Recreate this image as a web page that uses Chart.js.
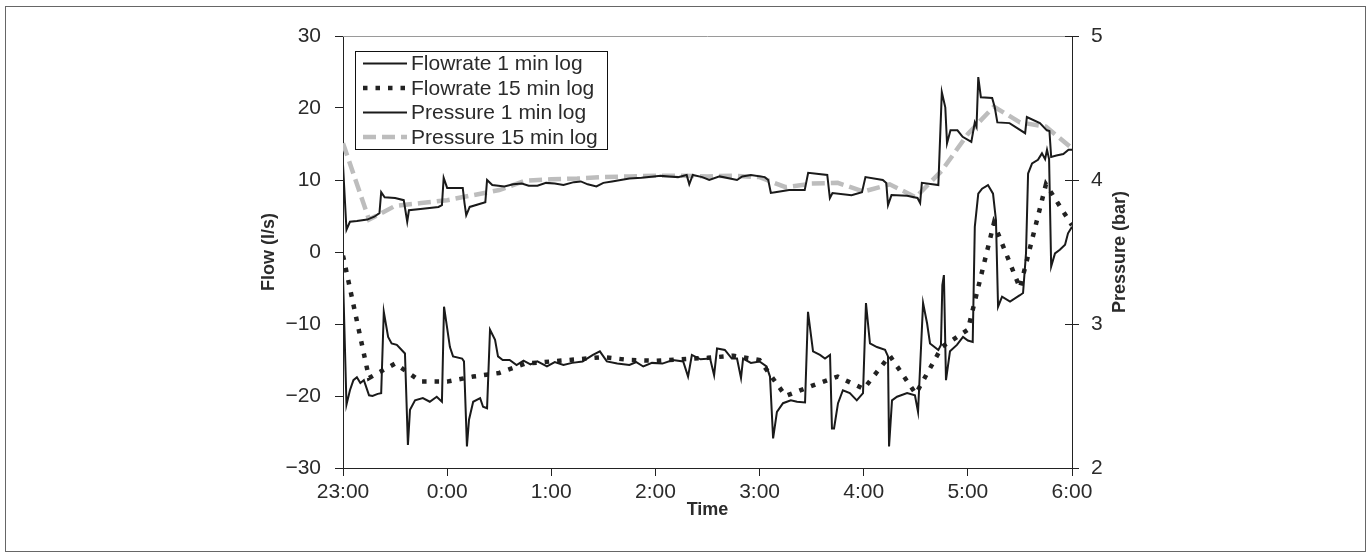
<!DOCTYPE html>
<html>
<head>
<meta charset="utf-8">
<title>Flow and pressure</title>
<script src="https://cdn.jsdelivr.net/npm/chart.js@4.4.1/dist/chart.umd.min.js"></script>
<style>
	html, body { margin: 0; padding: 0; background: #fff; }
	#wrap { position: relative; width: 1372px; height: 560px; }
</style>
</head>
<body>
<div id="wrap"><canvas id="mycanvas" width="1372" height="560"></canvas></div>
<script>
// minutes after 23:00
var timeTicks = ['23:00', '0:00', '1:00', '2:00', '3:00', '4:00', '5:00', '6:00'];

var flowMinTimes = [0, 2, 4, 6, 8, 10, 12, 13, 15, 17, 20, 22, 23.5, 26, 28, 31, 33, 35.7, 37.4, 38.6, 41.5, 46, 50, 54, 57, 58.2,
	61.6, 63.4, 68.6, 69.7, 71.4, 72.6, 75, 79, 80.7, 83, 84.7, 87.6, 89.3, 92, 96, 100, 104, 108, 112, 117.5, 122, 127, 132, 138, 144, 148, 152,
	158, 165, 169, 173, 178, 184, 190, 196, 198.8, 201, 206, 211.5, 213.8, 215.5, 220, 224, 227, 229.3, 230.5, 235, 240, 244, 246, 247.8, 250, 253.5,
	258, 261.6, 266.2, 267.9, 270.8, 274.8, 277.7, 280.6, 281.7, 282.9, 285.2, 288, 292, 296, 299.6, 301.3, 303.6, 307.6, 312.3,
	314, 314.6, 316.3, 319.2, 325, 329.5, 331.3, 334.2, 336.5, 338.2, 343, 344.5, 345.3, 346.2, 347.4, 349.7, 353.7, 357.2,
	360, 362.8, 364, 366, 368.2, 371.6, 374.5, 376.2, 377.4, 379.7, 384.3, 390, 391.8, 393.5, 394.7, 397, 400.4, 402.7,
	404.5, 405.6, 406.8, 408, 410.2, 413, 416, 417.7, 420];
var flowMinValues = [-3.4, -21.2, -19.2, -17.8, -17.4, -18.2, -17.8, -18.5, -19.9, -20, -19.7, -19.6, -8.3, -11.8, -12.7, -12.9, -13.4, -14.1, -26.8, -21.9, -20.6, -20.3, -20.8, -20.1, -20.8, -7.6,
	-13.2, -14.5, -14.8, -15.2, -27, -23.3, -20.8, -20.3, -21.5, -21.7, -10.8, -12.2, -14.5, -15, -15, -15.7, -15.1, -15.6, -15.2, -15.9, -15.3, -15.7, -15.4, -15.2, -14.3, -13.8, -15.2,
	-15.5, -15.7, -15.3, -15.9, -15.4, -15.5, -15.0, -15.2, -17.3, -14.3, -14.9, -14.8, -17.1, -13.4, -13.6, -14.8, -14.8, -17.5, -14.8, -15.4, -15.2, -15.9, -17.3, -25.9, -22.2, -21,
	-20.6, -20.8, -20.9, -8.3, -13.8, -14.3, -14.8, -14.3, -24.5, -24.5, -21, -19.2, -19.6, -20.6, -19.6, -7.1, -12.7, -13.2, -13.6,
	-14.5, -27, -20.6, -20.1, -19.6, -19.9, -22.2, -7.1, -9.9, -12.7, -13.6, -12.9, -4.6, -3.2, -17.8, -13.8, -12.9, -11.8,
	-12.3, -12.5, 3.5, 8.1, 8.8, 9.3, 8.1, 4.4, -7.6, -6.2, -6.9, -6, -5.7, -0.2, 10.9, 12.3, 12.8, 13.7,
	12.9, 14.2, 12.9, -2, -0.2, 0.3, 1, 2.6, 3.5];

var presMinTimes = [0, 2, 4, 8, 14, 18, 21, 22, 24, 30, 35, 37, 38, 46, 55, 57, 58, 60, 69, 70, 71, 73, 82, 83, 86, 93, 98, 103, 107, 112,
	117, 122, 127, 133, 137, 141, 146, 150, 155, 160, 165, 172, 179, 183, 188, 193, 198, 199.5, 201.5, 207, 211, 217, 227, 230, 235, 243, 245, 246.5, 249, 257, 266, 268,
	279, 280.5, 282, 293, 299, 301, 311, 313, 314, 316, 325, 331, 332.5, 333.5, 343, 345, 347, 348, 350, 354, 357, 362, 364,
	365, 366, 367.5, 374, 375.5, 377, 384, 393, 394, 401.5, 405.5, 407, 408, 411, 415, 418, 420];
var presMinValues = [4.105, 3.655, 3.71, 3.715, 3.725, 3.745, 3.77, 3.915, 3.88, 3.875, 3.86, 3.71, 3.79, 3.8, 3.813, 3.825, 4.015, 3.945, 3.945, 3.84, 3.755, 3.813, 3.845, 4.0, 3.965, 3.955, 3.97, 3.975, 3.96, 3.96,
	3.98, 3.975, 3.965, 3.985, 3.99, 3.97, 3.955, 3.98, 3.99, 4.0, 4.01, 4.015, 4.025, 4.03, 4.025, 4.02, 4.035, 3.97, 4.035, 4.02, 4.0, 4.025, 4.0, 4.025, 4.035, 4.02, 4.0, 3.91, 3.915, 3.93, 3.93, 4.05,
	4.035, 3.875, 3.91, 3.895, 3.915, 4.02, 4.0, 3.98, 3.825, 3.895, 3.89, 3.875, 3.84, 3.98, 3.965, 4.61, 4.505, 4.255, 4.345, 4.345, 4.3, 4.265, 4.4,
	4.37, 4.715, 4.575, 4.57, 4.505, 4.4, 4.395, 4.325, 4.4375, 4.395, 4.345, 4.34, 4.16, 4.17, 4.18, 4.21, 4.21];

var quarterTimes = [0, 15, 30, 45, 60, 75, 90, 105, 120, 135, 150, 165, 180, 195, 210, 225, 240, 255, 270, 285, 300, 315, 330, 345, 360, 375, 390, 405, 420];
var flow15Values = [-0.5, -17.5, -15.5, -18, -18, -17.3, -16.8, -15.5, -15.2, -14.9, -14.6, -15, -15.1, -14.9, -14.7, -14.4, -15, -20, -18.6, -17.3, -19, -14.4, -19.7, -13.2, -10.8, 4, -5, 9.4, 3.7];
var pres15Values = [4.255, 3.725, 3.82, 3.84, 3.86, 3.895, 3.93, 3.995, 4.005, 4.01, 4.02, 4.025, 4.03, 4.03, 4.025, 4.03, 4.02, 3.95, 3.975, 3.98, 3.92, 3.97, 3.88, 4.065, 4.32, 4.51, 4.4, 4.37, 4.22];

function pairs(xs, ys) {
	var out = [];
	for (var i in xs) {
		out.push({x: xs[i], y: ys[i]});
	}
	return out;
}

var FONT = "'Liberation Sans', Arial, Helvetica, sans-serif";
var TEXT = '#2b2b2b';
var AXIS = '#222';

var chartdata = {
	datasets: [
		{
			label: 'Flowrate 1 min log',
			data: pairs(flowMinTimes, flowMinValues),
			borderColor: '#1a1a1a',
			borderWidth: 2,
			yAxisID: 'y'
		},
		{
			label: 'Flowrate 15 min log',
			data: pairs(quarterTimes, flow15Values),
			borderColor: '#222',
			borderWidth: 4.5,
			borderDash: [4.5, 8],
			yAxisID: 'y'
		},
		{
			label: 'Pressure 1 min log',
			data: pairs(presMinTimes, presMinValues),
			borderColor: '#1a1a1a',
			borderWidth: 2,
			yAxisID: 'y1'
		},
		{
			label: 'Pressure 15 min log',
			data: pairs(quarterTimes, pres15Values),
			borderColor: '#bdbdbd',
			borderWidth: 4.5,
			borderDash: [13, 6],
			yAxisID: 'y1'
		}
	]
};

// frame, top border, right axis inner ticks + title, boxed legend
var extras = {
	id: 'extras',
	beforeDraw: function(chart) {
		var c = chart.ctx;
		c.save();
		c.fillStyle = '#fff';
		c.fillRect(0, 0, chart.width, chart.height);
		c.strokeStyle = '#666';
		c.lineWidth = 1;
		c.strokeRect(5.5, 6.5, 1360, 545);
		c.restore();
	},
	afterDraw: function(chart) {
		var c = chart.ctx;
		var a = chart.chartArea;
		c.save();
		c.strokeStyle = '#9a9a9a';
		c.lineWidth = 1;
		c.beginPath();
		c.moveTo(a.left, a.top + 0.5);
		c.lineTo(a.right, a.top + 0.5);
		c.stroke();

		var r = chart.scales.y1;
		c.strokeStyle = AXIS;
		c.beginPath();
		r.ticks.forEach(function(t) {
			var y = Math.round(r.getPixelForValue(t.value)) + 0.5;
			c.moveTo(a.right - 7, y);
			c.lineTo(a.right, y);
		});
		c.stroke();

		c.fillStyle = TEXT;
		c.font = 'bold 18px ' + FONT;
		c.textAlign = 'center';
		c.textBaseline = 'middle';
		c.translate(1120, (a.top + a.bottom) / 2);
		c.rotate(-Math.PI / 2);
		c.fillText('Pressure (bar)', 0, 0);
		c.restore();

		// legend
		var lx = a.left + 12, ly = a.top + 15, lw = 252, lh = 98;
		c.save();
		c.fillStyle = '#fff';
		c.fillRect(lx, ly, lw, lh);
		c.strokeStyle = '#111';
		c.lineWidth = 1;
		c.strokeRect(lx + 0.5, ly + 0.5, lw, lh);
		c.font = '21px ' + FONT;
		c.textBaseline = 'middle';
		c.textAlign = 'left';
		chart.data.datasets.forEach(function(ds, i) {
			var y = ly + 12.5 + i * 24.5;
			c.strokeStyle = ds.borderColor;
			c.lineWidth = ds.borderWidth;
			c.setLineDash(ds.borderDash || []);
			c.beginPath();
			c.moveTo(lx + 8, y);
			c.lineTo(lx + 52, y);
			c.stroke();
			c.setLineDash([]);
			c.fillStyle = TEXT;
			c.fillText(ds.label, lx + 56, y + 1);
		});
		c.restore();
	}
};

var ctx = document.getElementById('mycanvas');

var lineGraph = new Chart(ctx, {
	type: 'line',
	data: chartdata,
	plugins: [extras],
	options: {
		responsive: false,
		animation: false,
		events: [],
		layout: { padding: { left: 254, right: 238, top: 36, bottom: 39 } },
		elements: {
			point: { radius: 0 },
			line: { tension: 0, borderCapStyle: 'butt' }
		},
		plugins: {
			legend: { display: false },
			tooltip: { enabled: false }
		},
		scales: {
			x: {
				type: 'linear',
				min: 0,
				max: 420,
				afterFit: function(s) { s.height = 53; },
				afterBuildTicks: function(s) {
					s.ticks = timeTicks.map(function(t, i) { return {value: i * 60}; });
				},
				ticks: {
					autoSkip: false,
					maxRotation: 0,
					padding: 4,
					color: TEXT,
					font: { family: FONT, size: 21 },
					callback: function(v) { return timeTicks[Math.round(v / 60)]; }
				},
				grid: { drawOnChartArea: false, tickLength: 8, color: AXIS },
				border: { color: AXIS },
				title: {
					display: true,
					text: 'Time',
					color: TEXT,
					font: { family: FONT, size: 18, weight: 'bold' },
					padding: { top: 4, bottom: 0 }
				}
			},
			y: {
				position: 'left',
				min: -30,
				max: 30,
				afterFit: function(s) { s.width = 89; },
				ticks: {
					stepSize: 10,
					padding: 14,
					color: TEXT,
					font: { family: FONT, size: 21 },
					callback: function(v) { return v < 0 ? '\u2212' + Math.abs(v) : '' + v; }
				},
				grid: { drawOnChartArea: false, tickLength: 8, color: AXIS },
				border: { color: AXIS },
				title: {
					display: true,
					text: 'Flow (l/s)',
					color: TEXT,
					font: { family: FONT, size: 18, weight: 'bold' },
					padding: { top: 4, bottom: 0 }
				}
			},
			y1: {
				position: 'right',
				min: 2,
				max: 5,
				afterFit: function(s) { s.width = 62; },
				ticks: {
					stepSize: 1,
					padding: 12,
					color: TEXT,
					font: { family: FONT, size: 21 }
				},
				grid: { drawOnChartArea: false, tickLength: 7, color: AXIS },
				border: { color: AXIS }
			}
		}
	}
});
</script>
</body>
</html>
